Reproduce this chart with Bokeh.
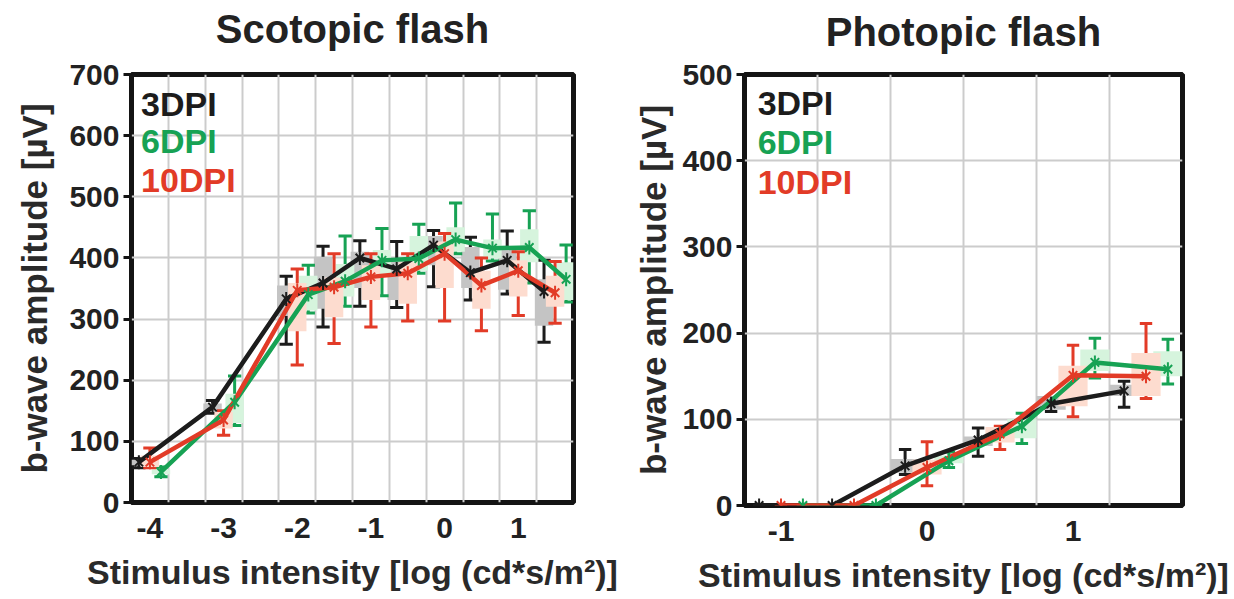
import numpy as np
from bokeh.plotting import figure
from bokeh.models import ColumnDataSource, FixedTicker, Range1d, Label, Title
from bokeh.layouts import row
from bokeh.transform import dodge
from bokeh.embed import file_html
from bokeh.resources import INLINE

FONT = "Liberation Sans"

# ---------------- data ----------------
series_names = ["3DPI", "6DPI", "10DPI"]
dark_colors = ["#1c1c1c", "#17a254", "#e23b27"]
light_colors = ["#c4c4c4", "#d6f4dd", "#fddccf"]

x_tick_labels_scot = [-4, -3, -2, -1, 0, 1]
x_tick_labels_phot = [-1, 0, 1]

# Scotopic flash
scot_x = [-4, -3, -2, -1.5, -1, -0.5, 0, 0.5, 1, 1.5]
scot_3dpi_mean = [66, 156, 333, 359, 400, 382, 421, 376, 396, 345]
scot_3dpi_q1 = [61, 148, 305, 317, 351, 331, 388, 351, 348, 289]
scot_3dpi_q3 = [70, 162, 355, 402, 410, 399, 436, 418, 413, 365]
scot_3dpi_lo = [57, 146, 259, 287, 321, 319, 353, 331, 341, 262]
scot_3dpi_hi = [72, 167, 370, 419, 428, 427, 445, 434, 444, 396]

scot_6dpi_mean = [50, 164, 340, 362, 396, 399, 430, 416, 417, 365]
scot_6dpi_q1 = [46, 130, 314, 337, 371, 379, 410, 399, 393, 331]
scot_6dpi_q3 = [54, 178, 371, 390, 413, 436, 450, 430, 447, 393]
scot_6dpi_lo = [42, 126, 310, 321, 338, 375, 407, 395, 359, 328]
scot_6dpi_hi = [58, 207, 388, 436, 448, 455, 490, 472, 477, 421]

scot_10dpi_mean = [66, 135, 347, 352, 369, 375, 407, 355, 379, 343]
scot_10dpi_q1 = [58, 121, 280, 303, 331, 325, 351, 317, 337, 320]
scot_10dpi_q3 = [77, 148, 359, 368, 388, 393, 427, 379, 396, 371]
scot_10dpi_lo = [57, 110, 225, 260, 287, 297, 297, 281, 306, 293]
scot_10dpi_hi = [89, 150, 382, 407, 407, 407, 440, 400, 410, 394]

# Photopic flash
phot_x = [-1, -0.5, 0, 0.5, 1, 1.5]
phot_3dpi_mean = [0, 0, 46, 76, 118, 133]
phot_3dpi_q1 = [0, 0, 38, 69, 111, 127]
phot_3dpi_q3 = [0, 0, 54, 80, 127, 140]
phot_3dpi_lo = [0, 0, 36, 57, 109, 114]
phot_3dpi_hi = [0, 0, 65, 90, 125, 144]

phot_6dpi_mean = [0, 0, 52, 92, 166, 158]
phot_6dpi_q1 = [0, 0, 49, 78, 156, 150]
phot_6dpi_q3 = [0, 0, 58, 100, 181, 179]
phot_6dpi_lo = [0, 0, 44, 72, 148, 141]
phot_6dpi_hi = [0, 0, 62, 107, 194, 193]

phot_10dpi_mean = [0, 0, 44, 83, 151, 150]
phot_10dpi_q1 = [0, 0, 36, 73, 115, 127]
phot_10dpi_q3 = [0, 0, 53, 91, 162, 177]
phot_10dpi_lo = [0, 0, 23, 65, 103, 124]
phot_10dpi_hi = [0, 0, 74, 92, 186, 211]

scot_series = [
    (scot_3dpi_mean, scot_3dpi_q1, scot_3dpi_q3, scot_3dpi_lo, scot_3dpi_hi),
    (scot_6dpi_mean, scot_6dpi_q1, scot_6dpi_q3, scot_6dpi_lo, scot_6dpi_hi),
    (scot_10dpi_mean, scot_10dpi_q1, scot_10dpi_q3, scot_10dpi_lo, scot_10dpi_hi),
]
phot_series = [
    (phot_3dpi_mean, phot_3dpi_q1, phot_3dpi_q3, phot_3dpi_lo, phot_3dpi_hi),
    (phot_6dpi_mean, phot_6dpi_q1, phot_6dpi_q3, phot_6dpi_lo, phot_6dpi_hi),
    (phot_10dpi_mean, phot_10dpi_q1, phot_10dpi_q3, phot_10dpi_lo, phot_10dpi_hi),
]

X_LABEL = "Stimulus intensity [log (cd*s/m\u00b2)]"
Y_LABEL = "b-wave amplitude [\u00b5V]"


def make_panel(title, xs, series, x_ticks, xr, yr, y_step, sizes, box_w, cap_w,
               legend_x, legend_ys, ylab_standoff, title_gap):
    (frame_w, frame_h, b_left, b_top, b_right, b_bottom) = sizes
    p = figure(frame_width=frame_w, frame_height=frame_h,
               x_range=Range1d(*xr), y_range=Range1d(*yr),
               output_backend="svg", toolbar_location=None,
               min_border_left=b_left, min_border_top=b_top,
               min_border_right=b_right, min_border_bottom=b_bottom)

    p.outline_line_color = "#141414"
    p.outline_line_width = 5
    p.background_fill_color = "white"
    p.border_fill_color = "white"

    # spacer between frame and title, then the title itself
    p.add_layout(Title(text=" ", text_font_size="1px", standoff=title_gap), "above")
    p.add_layout(Title(text=title, align="center", text_font=FONT,
                       text_font_size="40px", text_font_style="bold",
                       text_color="#222222", standoff=4), "above")

    # axes
    p.xaxis.ticker = FixedTicker(ticks=x_ticks)
    p.xaxis.major_label_overrides = {t: str(t) for t in x_ticks}
    p.yaxis.ticker = FixedTicker(ticks=list(np.arange(yr[0], yr[1] + 1, y_step)))
    for ax in (p.xaxis[0], p.yaxis[0]):
        ax.axis_line_color = None
        ax.minor_tick_line_color = None
        ax.major_label_text_font = FONT
        ax.major_label_text_font_style = "bold"
        ax.major_label_text_font_size = "30px"
        ax.major_label_text_color = "#222222"
        ax.axis_label_text_font = FONT
        ax.axis_label_text_font_style = "bold"
        ax.axis_label_text_font_size = "34px"
        ax.axis_label_text_color = "#2a2a2a"
    p.yaxis.axis_label_text_font_size = "35px"
    p.xaxis.major_tick_line_color = None
    p.xaxis.major_label_standoff = 9
    p.xaxis.axis_label = X_LABEL
    p.xaxis.axis_label_standoff = 12
    p.yaxis.major_tick_line_color = "#141414"
    p.yaxis.major_tick_line_width = 3
    p.yaxis.major_tick_out = 8
    p.yaxis.major_tick_in = 0
    p.yaxis.major_label_standoff = 4
    p.yaxis.axis_label = Y_LABEL
    p.yaxis.axis_label_standoff = ylab_standoff

    # grid
    p.xgrid.ticker = FixedTicker(ticks=list(np.arange(xr[0] + 0.5, xr[1], 0.5)))
    p.ygrid.ticker = FixedTicker(ticks=list(np.arange(yr[0] + y_step, yr[1], y_step)))
    p.grid.grid_line_color = "#cccccc"
    p.grid.grid_line_width = 2

    offsets = [-0.15, 0.15, 0.0]
    sources = []
    for (mean, q1, q3, lo, hi) in series:
        sources.append(ColumnDataSource(dict(x=xs, mean=mean, q1=q1, q3=q3, lo=lo, hi=hi)))

    # whiskers + boxes
    for src, off, dc, lc in zip(sources, offsets, dark_colors, light_colors):
        p.segment(x0=dodge("x", off, range=p.x_range), x1=dodge("x", off, range=p.x_range),
                  y0="lo", y1="hi", source=src, line_color=dc, line_width=3)
        p.segment(x0=dodge("x", off - cap_w / 2, range=p.x_range),
                  x1=dodge("x", off + cap_w / 2, range=p.x_range),
                  y0="hi", y1="hi", source=src, line_color=dc, line_width=3)
        p.segment(x0=dodge("x", off - cap_w / 2, range=p.x_range),
                  x1=dodge("x", off + cap_w / 2, range=p.x_range),
                  y0="lo", y1="lo", source=src, line_color=dc, line_width=3)
        p.vbar(x=dodge("x", off, range=p.x_range), width=box_w, bottom="q1", top="q3",
               source=src, fill_color=lc, line_color=None)

    # lines and markers
    for src, off, dc in zip(sources, offsets, dark_colors):
        p.line(x=dodge("x", off, range=p.x_range), y="mean", source=src,
               line_color=dc, line_width=4.5)
    for src, off, dc in zip(sources, offsets, dark_colors):
        p.scatter(x=dodge("x", off, range=p.x_range), y="mean", source=src,
                  marker="x", size=12, line_color=dc, line_width=2)
        p.scatter(x=dodge("x", off, range=p.x_range), y="mean", source=src,
                  marker="dash", angle=np.pi / 2, size=14, line_color=dc, line_width=2)

    # legend texts
    for name, dc, ly in zip(series_names, dark_colors, legend_ys):
        p.add_layout(Label(x=legend_x, y=ly, text=name, text_font=FONT,
                           text_font_style="bold", text_font_size="34px",
                           text_color=dc, text_baseline="alphabetic"))
    return p


p1 = make_panel("Scotopic flash", scot_x, scot_series, x_tick_labels_scot,
                (-4.25, 1.75), (0, 700), 100,
                (442, 428, 131, 74, 58, 97), 0.25, 0.18,
                -4.12, [651, 592, 527], 12, 19)
p2 = make_panel("Photopic flash", phot_x, phot_series, x_tick_labels_phot,
                (-1.25, 1.75), (0, 500), 100,
                (438, 431, 112, 70, 53, 98), 0.2, 0.085,
                -1.16, [467, 422, 375], 6, 16)

layout = row(p1, p2)
open("out.html", "w").write(file_html(layout, INLINE))
